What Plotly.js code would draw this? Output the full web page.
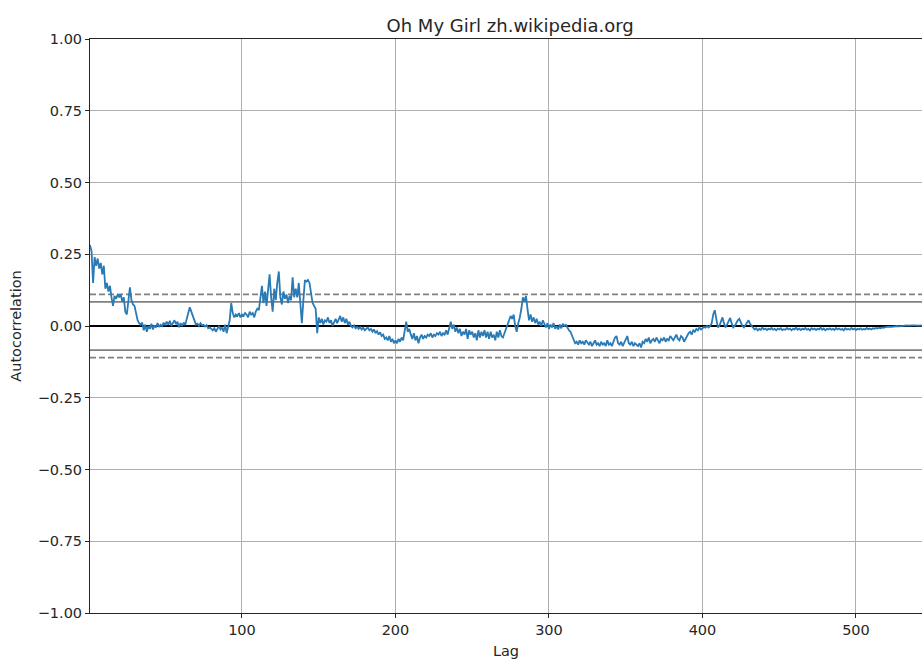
<!DOCTYPE html>
<html>
<head>
<meta charset="utf-8">
<script src="https://cdn.plot.ly/plotly-3.0.1.min.js"></script>
<style>html,body{margin:0;padding:0;background:#fff;}#chart{width:922px;height:659px;}</style>
</head>
<body>
<div id="chart"></div>
<script>
// Autocorrelation values, lag 1 .. n
const acf = [
 0.282,0.26,0.15,0.24,0.21,0.235,0.20,0.22,0.18,0.21,
 0.13,0.15,0.12,0.14,0.10,0.07,0.105,0.095,0.11,0.10,
 0.11,0.085,0.10,0.05,0.04,0.09,0.135,0.09,0.075,0.07,
 0.04,0.02,0.01,0.005,0.012,-0.015,0.005,-0.02,0.0,-0.01,
 0.008,-0.012,0.002,-0.005,0.01,-0.003,0.004,0.0,0.012,0.002,
 0.015,0.005,0.018,0.0,0.01,0.02,0.006,0.015,-0.004,0.01,
 0.0,0.012,0.003,0.03,0.045,0.065,0.05,0.035,0.02,0.005,
 0.008,0.0,0.01,0.002,0.004,-0.002,0.003,-0.008,-0.005,-0.012,
 -0.015,-0.008,-0.02,-0.01,0.0,-0.012,-0.005,-0.02,0.005,-0.025,
 -0.005,0.02,0.08,0.045,0.03,0.04,0.035,0.045,0.03,0.04,
 0.035,0.045,0.04,0.03,0.05,0.04,0.045,0.03,0.05,0.06,
 0.055,0.09,0.14,0.08,0.12,0.07,0.13,0.18,0.10,0.05,
 0.13,0.09,0.15,0.19,0.10,0.075,0.12,0.095,0.11,0.08,
 0.105,0.09,0.17,0.10,0.13,0.10,0.15,0.06,0.01,0.09,
 0.16,0.155,0.16,0.15,0.11,0.08,0.07,0.06,-0.025,0.03,
 0.01,0.025,0.005,0.02,0.015,0.03,0.01,0.02,0.0,0.015,
 0.025,0.01,0.02,0.035,0.015,0.03,0.01,0.025,0.005,0.015,
 0.0,-0.005,0.002,-0.008,-0.003,-0.01,-0.004,-0.012,-0.006,-0.015,
 -0.01,-0.005,-0.015,-0.01,-0.02,-0.012,-0.025,-0.018,-0.03,-0.022,
 -0.035,-0.03,-0.045,-0.04,-0.05,-0.035,-0.055,-0.045,-0.06,-0.05,
 -0.06,-0.045,-0.055,-0.04,-0.05,-0.01,0.015,-0.02,-0.01,-0.03,
 -0.045,-0.025,-0.05,-0.035,-0.06,-0.04,-0.03,-0.045,-0.035,-0.04,
 -0.03,-0.035,-0.025,-0.04,-0.03,-0.035,-0.025,-0.03,-0.02,-0.035,
 -0.025,-0.03,-0.015,-0.03,-0.01,0.015,-0.01,0.005,-0.02,-0.005,
 -0.025,-0.01,-0.035,-0.02,-0.03,-0.01,-0.045,-0.015,-0.03,-0.02,
 -0.04,-0.025,-0.05,-0.015,-0.04,-0.02,-0.035,-0.015,-0.04,-0.02,
 -0.045,-0.02,-0.04,-0.03,-0.05,-0.02,-0.04,-0.015,-0.035,-0.04,
 -0.025,-0.01,0.0,0.02,0.035,0.025,0.04,0.0,-0.02,0.01,
 0.03,0.06,0.10,0.085,0.105,0.06,0.02,0.04,0.015,0.03,
 0.01,0.025,0.005,0.015,0.0,0.02,0.005,-0.005,0.01,-0.01,
 0.005,-0.005,0.01,-0.01,0.0,-0.012,0.005,-0.008,0.008,0.0,
 0.004,-0.006,-0.015,-0.02,-0.035,-0.05,-0.06,-0.055,-0.065,-0.05,
 -0.06,-0.055,-0.065,-0.05,-0.06,-0.065,-0.055,-0.07,-0.06,-0.05,
 -0.065,-0.06,-0.07,-0.055,-0.065,-0.06,-0.07,-0.05,-0.065,-0.06,
 -0.07,-0.05,-0.04,-0.035,-0.06,-0.065,-0.055,-0.07,-0.06,-0.045,
 -0.035,-0.06,-0.065,-0.055,-0.07,-0.06,-0.065,-0.07,-0.06,-0.075,
 -0.055,-0.06,-0.045,-0.055,-0.04,-0.06,-0.05,-0.045,-0.055,-0.04,
 -0.05,-0.06,-0.045,-0.05,-0.04,-0.055,-0.045,-0.05,-0.035,-0.045,
 -0.05,-0.04,-0.03,-0.045,-0.05,-0.035,-0.04,-0.055,-0.045,-0.03,
 -0.025,-0.02,-0.03,-0.015,-0.02,-0.01,-0.015,-0.005,-0.012,-0.008,
 -0.003,-0.006,0.0,-0.005,0.0,0.01,0.04,0.055,0.02,-0.005,
 0.0,0.015,0.03,0.01,-0.005,0.005,0.015,0.028,0.01,-0.005,
 0.0,0.012,0.02,0.025,0.01,0.0,-0.005,0.005,0.015,0.02,
 0.008,0.0,-0.005,-0.012,-0.008,-0.015,-0.01,-0.013,-0.006,-0.012,
 -0.009,-0.014,-0.01,-0.012,-0.007,-0.013,-0.01,-0.015,-0.009,-0.012,
 -0.008,-0.014,-0.011,-0.013,-0.007,-0.012,-0.009,-0.015,-0.01,-0.012,
 -0.006,-0.013,-0.009,-0.014,-0.01,-0.012,-0.007,-0.013,-0.01,-0.015,
 -0.008,-0.012,-0.009,-0.014,-0.01,-0.012,-0.006,-0.013,-0.009,-0.015,
 -0.01,-0.012,-0.008,-0.013,-0.01,-0.014,-0.007,-0.012,-0.009,-0.013,
 -0.01,-0.015,-0.008,-0.012,-0.01,-0.013,-0.007,-0.012,-0.009,-0.014,
 -0.01,-0.012,-0.008,-0.013,-0.01,-0.012,-0.007,-0.011,-0.009,-0.012,
 -0.008,-0.01,-0.007,-0.009,-0.006,-0.008,-0.005,-0.006,-0.004,-0.003,
 -0.004,-0.002,-0.003,-0.002,-0.001,-0.002,0.0,-0.001,0.0,0.001,
 0.0,0.001,0.002,0.001,0.002,0.001,0.002,0.002,0.001,0.002,
 0.001,0.002,0.001,0.001,0.0
];
const lags = acf.map((v, i) => i + 1);
const xTicks = [100, 200, 300, 400, 500];
const yTicks = [-1, -0.75, -0.5, -0.25, 0, 0.25, 0.5, 0.75, 1];
const xView = [1, 543];
const titleText = "Oh My Girl zh.wikipedia.org";

const n = acf.length;
const z95 = 1.959963984540054, z99 = 2.5758293035489004;
const c95 = z95 / Math.sqrt(n), c99 = z99 / Math.sqrt(n);
const xEnds = [lags[0], lags[n - 1]];

function hline(y, color, dash) {
  return {x: xEnds, y: [y, y], mode: 'lines', hoverinfo: 'skip', showlegend: false,
          line: {color: color, width: 1.8, dash: dash}};
}

const traces = [
  hline(c99, 'grey', '6px,3px'),
  hline(c95, 'grey', 'solid'),
  hline(0, 'black', 'solid'),
  hline(-c95, 'grey', 'solid'),
  hline(-c99, 'grey', '6px,3px'),
  {x: lags, y: acf, mode: 'lines', showlegend: false,
   line: {color: '#2a7ab5', width: 1.8}}
];

const font = {family: 'DejaVu Sans, sans-serif', size: 14.5, color: '#262626'};
const layout = {
  width: 922, height: 659,
  margin: {l: 90, r: 0, t: 39, b: 46, pad: 0},
  paper_bgcolor: '#fff', plot_bgcolor: '#fff',
  font: font,
  showlegend: false,
  title: {text: titleText, x: 0.505, xref: 'paper', xanchor: 'center', y: 1, yref: 'paper', yanchor: 'bottom', pad: {b: 7},
          font: {family: 'DejaVu Sans, sans-serif', size: 18, color: '#262626'}},
  xaxis: {range: xView, tickvals: xTicks, ticks: 'outside', ticklen: 4, tickcolor: '#262626', tickwidth: 1,
          showgrid: true, gridcolor: '#b0b0b0', gridwidth: 1, zeroline: false,
          showline: true, linecolor: '#262626', linewidth: 1, mirror: true,
          title: {text: 'Lag', standoff: 8, font: font}, automargin: false},
  yaxis: {range: [-1, 1], tickvals: yTicks, tickformat: '.2f', ticks: 'outside', ticklen: 4, tickcolor: '#262626', tickwidth: 1,
          showgrid: true, gridcolor: '#b0b0b0', gridwidth: 1, zeroline: false,
          showline: true, linecolor: '#262626', linewidth: 1, mirror: false,
          title: {text: 'Autocorrelation', standoff: 12, font: font}, automargin: false}
};

Plotly.newPlot('chart', traces, layout, {displayModeBar: false, staticPlot: true});
</script>
</body>
</html>
